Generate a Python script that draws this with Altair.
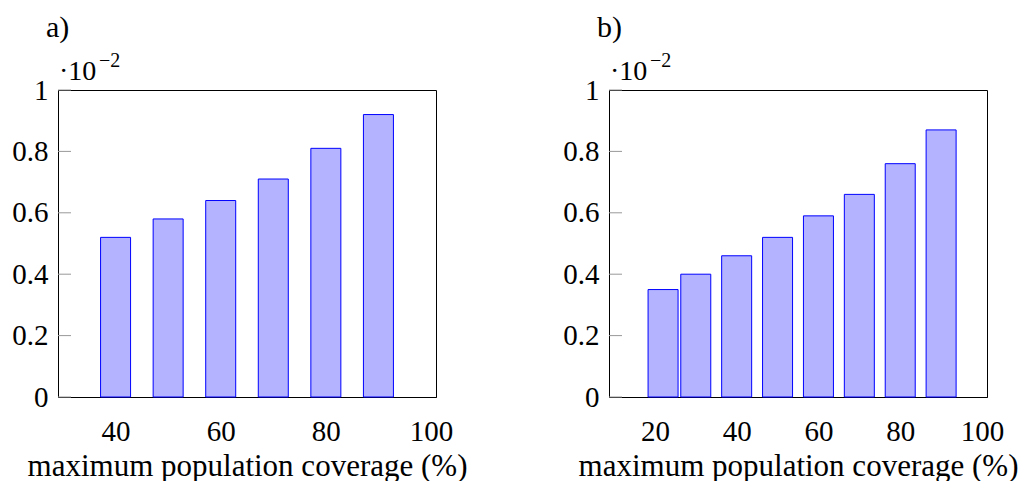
import altair as alt
import pandas as pd

# Panel a
coverage_a = [40, 50, 60, 70, 80, 90]
values_a = [0.52, 0.58, 0.64, 0.71, 0.81, 0.92]
xticks_a = [40, 60, 80, 100]

# Panel b
coverage_b = [22, 30, 40, 50, 60, 70, 80, 90]
values_b = [0.35, 0.40, 0.46, 0.52, 0.59, 0.66, 0.76, 0.87]
xticks_b = [20, 40, 60, 80, 100]

yticks = [0, 0.2, 0.4, 0.6, 0.8, 1.0]
x_title = "maximum population coverage (%)"

FONT = "Liberation Serif"
W, H = 378, 307


def panel(cov, vals, xticks, xdomain, label):
    df = pd.DataFrame({"coverage": cov, "value": vals})
    tdf = pd.DataFrame({"t": yticks})
    xscale = alt.Scale(domain=xdomain, nice=False, zero=False)
    yscale = alt.Scale(domain=[0, 1], nice=False)
    bars = alt.Chart(df).mark_bar(
        size=30, fill="#b3b3ff", stroke="#0000ff", strokeWidth=1
    ).encode(
        x=alt.X("coverage:Q", scale=xscale, title=x_title,
                axis=alt.Axis(values=xticks, format="d", ticks=False,
                              labelFlush=False, labelOverlap=False,
                              labelPadding=20, titlePadding=5,
                              titleFontSize=31,
                              grid=False, domainColor="black")),
        y=alt.Y("value:Q", scale=yscale, title=None,
                axis=alt.Axis(values=yticks, format="~g", ticks=False,
                              labelFlush=False, labelOverlap=False,
                              labelPadding=10, grid=False,
                              domainColor="black")),
    )
    tick_rules = alt.Chart(tdf).mark_rule(color="#999999", strokeWidth=1).encode(
        y=alt.Y("t:Q", scale=yscale),
        x=alt.value(0), x2=alt.value(13),
    )
    lab = alt.Chart(pd.DataFrame({"s": [label]})).mark_text(
        font=FONT, fontSize=30, align="left", baseline="alphabetic", color="black"
    ).encode(text="s:N", x=alt.value(-12), y=alt.value(-53))
    mult = alt.Chart(pd.DataFrame({"s": ["·10"]})).mark_text(
        font=FONT, fontSize=28, align="left", baseline="alphabetic", color="black"
    ).encode(text="s:N", x=alt.value(1), y=alt.value(-10))
    expo = alt.Chart(pd.DataFrame({"s": ["−2"]})).mark_text(
        font=FONT, fontSize=20, align="left", baseline="alphabetic", color="black"
    ).encode(text="s:N", x=alt.value(41), y=alt.value(-23))
    return alt.layer(bars, tick_rules, lab, mult, expo).properties(width=W, height=H)


a = panel(coverage_a, values_a, xticks_a, [30, 100], "a)")
b = panel(coverage_b, values_b, xticks_b, [10, 100], "b)")

chart = alt.hconcat(a, b, spacing=173, bounds="flush").properties(
    padding={"left": 3, "top": 4, "right": 0, "bottom": 0}
).configure(
    background="white",
    view=alt.ViewConfig(stroke="black", strokeWidth=1),
    axis=alt.AxisConfig(
        labelFont=FONT, labelFontSize=29, labelColor="black",
        titleFont=FONT, titleFontSize=29, titleColor="black",
        titleFontWeight="normal",
    ),
)

chart.save("out.html", embed_options={"renderer": "svg", "actions": False})
